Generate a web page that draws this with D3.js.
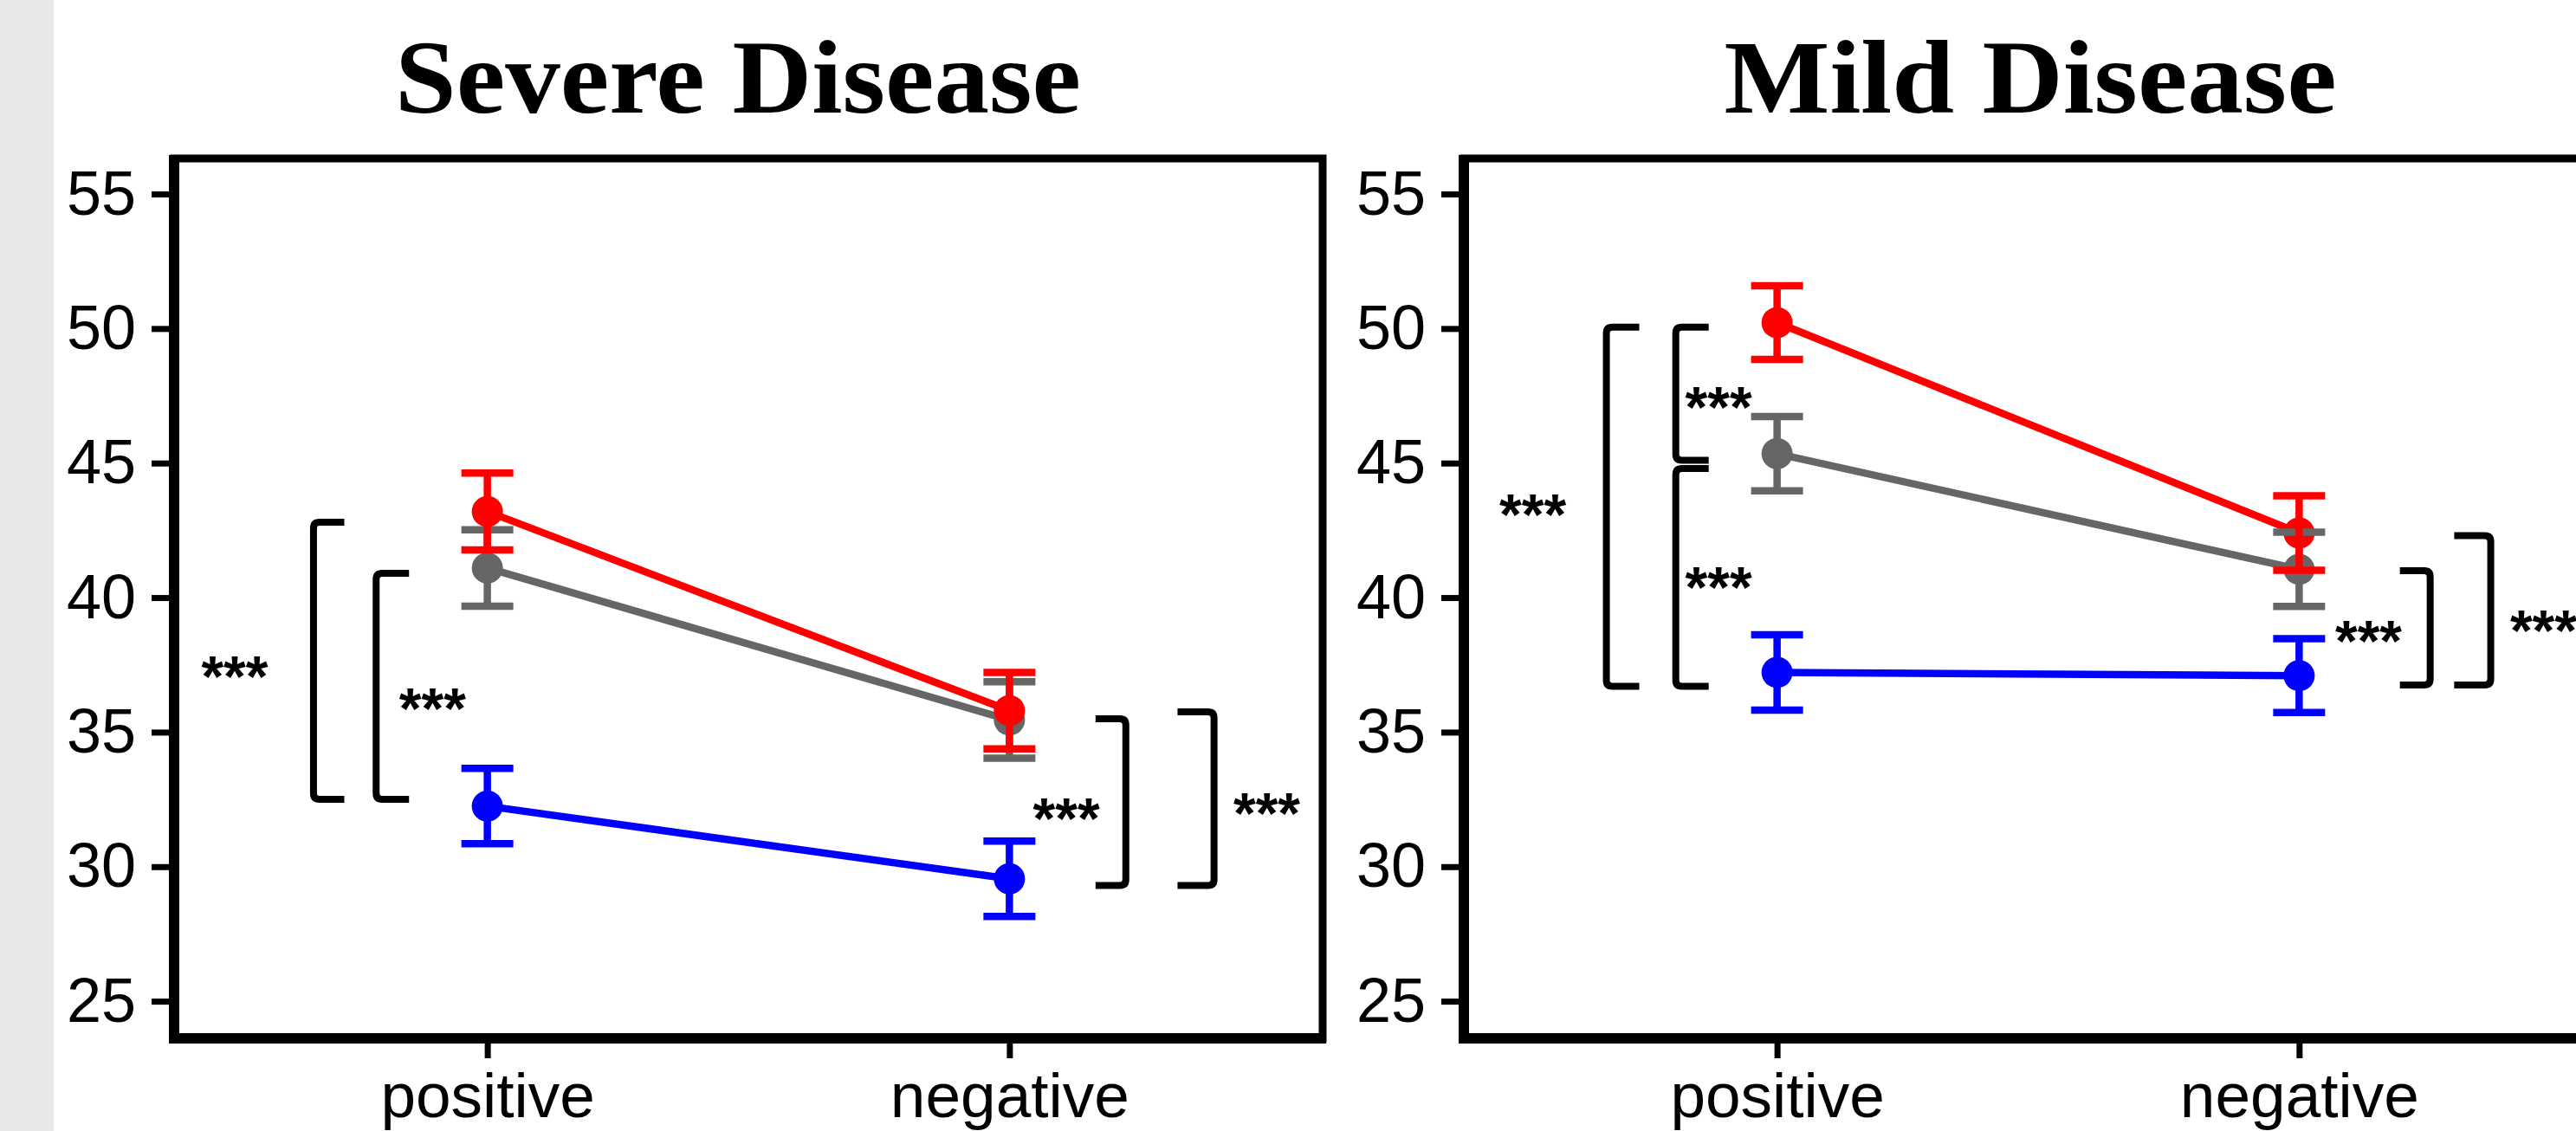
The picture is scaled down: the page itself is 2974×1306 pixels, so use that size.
<!DOCTYPE html>
<meta charset="utf-8">
<title>Severe vs Mild Disease</title>
<script src="https://d3js.org/d3.v7.min.js"></script>
<style>
  body { margin: 0; background: #fff; }
</style>
<body>
</body>
<script>
// categories on the x axis and y ticks
var categories = ["positive", "negative"];
var yTicks = [25, 30, 35, 40, 45, 50, 55];

// three groups, drawn in this order (blue, grey, red)
var groupColors = ["#0000ff", "#666666", "#ff0000"];

// means per group: [positive, negative]
var severeMean = [[32.25, 29.55], [41.1, 35.45], [43.2, 35.8]];
var severeErr  = [[1.4, 1.4], [1.42, 1.42], [1.43, 1.42]];
var mildMean   = [[37.22, 37.1], [45.35, 41.05], [50.22, 42.4]];
var mildErr    = [[1.4, 1.37], [1.38, 1.38], [1.37, 1.38]];

// significance brackets: y range in data units, x in category units (1 = positive, 2 = negative)
var severeBrackets = [
  {top: 42.8,  bottom: 32.5, spine: 0.667, arm: 0.726, lx: 0.516, ly: 37.6},
  {top: 40.9,  bottom: 32.5, spine: 0.787, arm: 0.850, lx: 0.895, ly: 36.4},
  {top: 35.5,  bottom: 29.3, spine: 2.223, arm: 2.165, lx: 2.109, ly: 32.3},
  {top: 35.75, bottom: 29.3, spine: 2.392, arm: 2.322, lx: 2.493, ly: 32.5}
];
var mildBrackets = [
  {top: 50.05, bottom: 36.7,  spine: 0.673, arm: 0.736, lx: 0.532, ly: 43.6},
  {top: 50.05, bottom: 45.1,  spine: 0.806, arm: 0.869, lx: 0.888, ly: 47.6},
  {top: 44.8,  bottom: 36.7,  spine: 0.806, arm: 0.869, lx: 0.888, ly: 40.9},
  {top: 41.0,  bottom: 36.75, spine: 2.251, arm: 2.193, lx: 2.133, ly: 38.9},
  {top: 42.3,  bottom: 36.75, spine: 2.367, arm: 2.297, lx: 2.468, ly: 39.3}
];

var W = 2974, H = 1306;
var svg = d3.select("body").append("svg")
            .attr("width", W)
            .attr("height", H)
            .style("display", "block");

svg.append("rect").attr("width", W).attr("height", H).attr("fill", "#fff");
svg.append("rect").attr("width", 62).attr("height", H).attr("fill", "#e8e8e8");

var panelW = 1326, panelTop = 183, panelBottom = 1199;

function drawPanel(left, title, titleX, titleW, means, errs, brackets) {
  var x = d3.scaleLinear().domain([0.4, 2.6]).range([left, left + panelW]);
  var y = d3.scaleLinear().domain([23.62, 56.32]).range([panelBottom, panelTop]);
  var g = svg.append("g");

  g.append("text")
   .attr("x", titleX).attr("y", 130)
   .attr("text-anchor", "middle")
   .attr("font-family", "Liberation Serif, serif")
   .attr("font-weight", "bold")
   .attr("font-size", 120)
   .attr("textLength", titleW)
   .attr("lengthAdjust", "spacingAndGlyphs")
   .text(title);

  // frame
  g.append("rect")
   .attr("x", left).attr("y", panelTop)
   .attr("width", panelW).attr("height", panelBottom - panelTop)
   .attr("fill", "none").attr("stroke", "#000").attr("stroke-width", 9);

  // y axis
  var yAxis = g.append("g")
    .attr("transform", "translate(" + (left - 6) + ",0)")
    .call(d3.axisLeft(y).tickValues(yTicks).tickSize(20).tickPadding(18));
  yAxis.select(".domain").remove();
  yAxis.selectAll(".tick line").attr("stroke-width", 7);
  yAxis.selectAll(".tick text")
       .attr("font-family", "Liberation Sans, Arial, sans-serif")
       .attr("font-size", 72).attr("fill", "#000");

  // x axis
  var xAxis = g.append("g")
    .attr("transform", "translate(0," + (panelBottom + 6) + ")")
    .call(d3.axisBottom(x).tickValues([1, 2])
            .tickFormat(function (d) { return categories[d - 1]; })
            .tickSize(17).tickPadding(16));
  xAxis.select(".domain").remove();
  xAxis.selectAll(".tick line").attr("stroke-width", 7);
  xAxis.selectAll(".tick text")
       .attr("font-family", "Liberation Sans, Arial, sans-serif")
       .attr("font-size", 73).attr("fill", "#000");

  // thick axis lines
  g.append("line").attr("x1", left).attr("x2", left)
   .attr("y1", panelTop - 4).attr("y2", panelBottom + 6)
   .attr("stroke", "#000").attr("stroke-width", 12);
  g.append("line").attr("x1", left - 6).attr("x2", left + panelW + 4)
   .attr("y1", panelBottom).attr("y2", panelBottom)
   .attr("stroke", "#000").attr("stroke-width", 12);

  var series = means.map(function (m, i) {
    return m.map(function (v, j) {
      return {cat: j + 1, mean: v, err: errs[i][j], color: groupColors[i]};
    });
  });

  var line = d3.line()
    .x(function (d) { return x(d.cat); })
    .y(function (d) { return y(d.mean); });

  g.selectAll("path.series").data(series).enter().append("path")
   .attr("class", "series")
   .attr("d", line)
   .attr("fill", "none")
   .attr("stroke", function (d) { return d[0].color; })
   .attr("stroke-width", 8.5);

  var pts = d3.merge(series);
  g.selectAll("circle.pt").data(pts).enter().append("circle")
   .attr("class", "pt")
   .attr("cx", function (d) { return x(d.cat); })
   .attr("cy", function (d) { return y(d.mean); })
   .attr("r", 18)
   .attr("fill", function (d) { return d.color; });

  var eb = g.selectAll("g.eb").data(pts).enter().append("g").attr("class", "eb")
            .attr("stroke", function (d) { return d.color; })
            .attr("stroke-width", 8.5);
  eb.append("line")
    .attr("x1", function (d) { return x(d.cat); })
    .attr("x2", function (d) { return x(d.cat); })
    .attr("y1", function (d) { return y(d.mean + d.err); })
    .attr("y2", function (d) { return y(d.mean - d.err); });
  [1, -1].forEach(function (s) {
    eb.append("line")
      .attr("x1", function (d) { return x(d.cat) - 30; })
      .attr("x2", function (d) { return x(d.cat) + 30; })
      .attr("y1", function (d) { return y(d.mean + s * d.err); })
      .attr("y2", function (d) { return y(d.mean + s * d.err); });
  });

  // brackets
  g.selectAll("path.br").data(brackets).enter().append("path")
   .attr("class", "br")
   .attr("d", function (b) {
     var xs = x(b.spine), xa = x(b.arm), y0 = y(b.top), y1 = y(b.bottom);
     var r = 7, dir = xa > xs ? 1 : -1;
     return "M" + xa + "," + y0 +
            "L" + (xs + dir * r) + "," + y0 +
            "Q" + xs + "," + y0 + " " + xs + "," + (y0 + r) +
            "L" + xs + "," + (y1 - r) +
            "Q" + xs + "," + y1 + " " + (xs + dir * r) + "," + y1 +
            "L" + xa + "," + y1;
   })
   .attr("fill", "none")
   .attr("stroke", "#000")
   .attr("stroke-width", 8);

  g.selectAll("text.sig").data(brackets).enter().append("text")
   .attr("class", "sig")
   .attr("x", function (b) { return x(b.lx); })
   .attr("y", function (b) { return y(b.ly) + 39; })
   .attr("text-anchor", "middle")
   .attr("font-family", "Liberation Sans, Arial, sans-serif")
   .attr("font-weight", "bold")
   .attr("font-size", 66)
   .text("***");
}

drawPanel(201, "Severe Disease", 852, 792, severeMean, severeErr, severeBrackets);
drawPanel(1690, "Mild Disease", 2344, 707, mildMean, mildErr, mildBrackets);
</script>
